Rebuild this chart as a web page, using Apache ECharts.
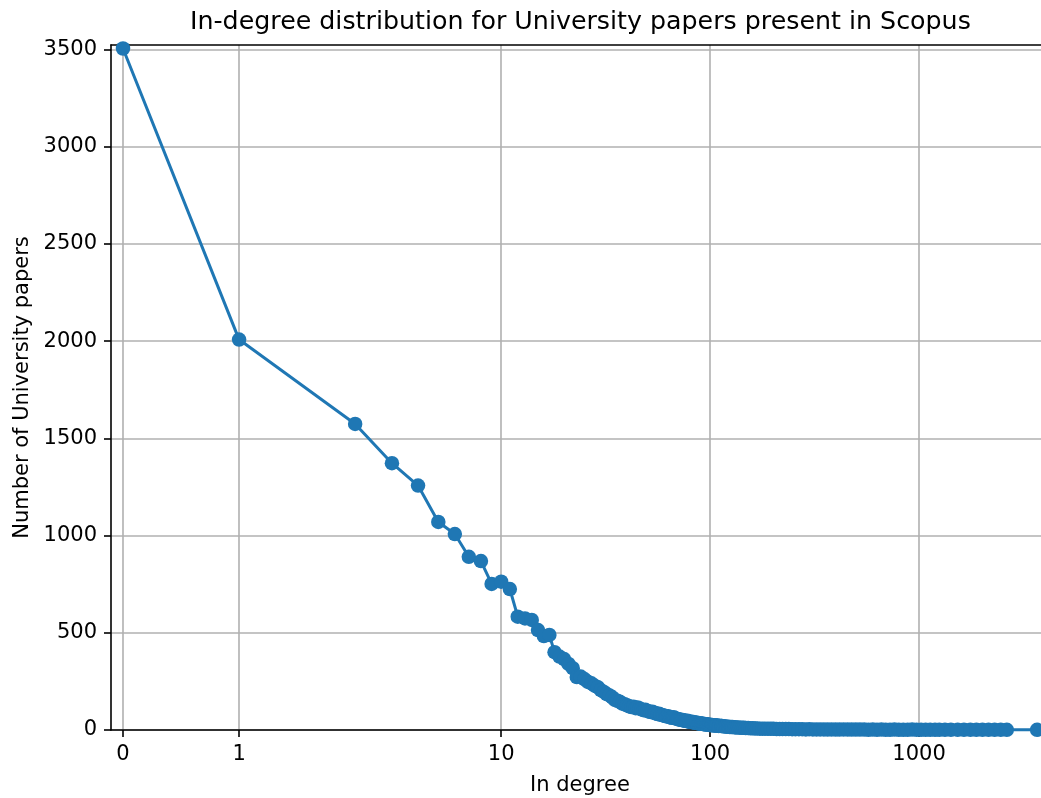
<!DOCTYPE html>
<html><head><meta charset="utf-8">
<script src="https://cdn.jsdelivr.net/npm/echarts@6/dist/echarts.min.js"></script>
<style>html,body{margin:0;padding:0;background:#fff}#c{width:1041px;height:798px}</style>
</head><body><div id="c"></div><script>
// ---- data ----
const inDegree = [
  0,1,2,3,4,5,6,7,8,9,10,11,12,13,14,15,16,17,18,19,20,
  21,22,23,24,25,26,27,28,29,30,31,32,33,34,35,36,37,38,39,40,
  41,42,43,44,45,46,47,48,49,50,51,52,53,54,55,56,57,58,59,60,
  61,62,63,64,65,66,67,68,69,70,71,72,73,74,75,76,77,78,79,80,
  81,82,83,84,85,86,87,88,89,90,91,92,93,94,95,96,97,98,99,100,
  101,102,103,104,105,106,107,108,110,111,113,114,116,118,120,122,124,126,128,131,
  133,136,139,142,145,148,152,156,160,164,168,173,178,183,189,195,201,208,215,222,
  230,238,247,256,266,276,287,298,310,323,336,350,365,381,398,416,435,455,476,498,
  521,546,572,600,629,660,692,726,762,800,840,882,926,973,1022,1075,1130,1192,1250,1330,
  1420,1530,1640,1760,1880,2010,2150,2300,2460,2630,3670
];
const paperCount = [
  3505,2008,1574,1372,1257,1070,1008,891,869,751,763,725,583,574,566,514,483,489,400,378,365,
  340,318,272,275,262,248,240,228,220,205,196,185,178,168,155,150,145,136,132,127,
  122,118,120,112,116,110,106,102,104,98,95,92,94,88,86,82,84,78,76,75,
  72,70,71,66,64,63,65,60,58,57,54,53,51,52,48,47,46,47,43,42,
  41,42,39,38,37,38,35,34,35,33,32,33,30,29,30,28,29,27,26,27,
  25,26,24,25,23,24,22,23,21,22,20,21,19,18,17,17,16,15,15,14,
  13,13,12,11,11,10,10,9,9,8,8,7,7,7,6,6,6,5,5,5,
  5,5,4,4,4,4,3,4,3,3,3,3,2,3,2,2,3,2,2,2,
  2,2,1,2,1,2,1,1,2,1,1,1,2,1,1,1,1,1,1,1,
  1,1,1,1,1,1,1,1,1,1,1
];
const xTickValues = [0, 1, 10, 100, 1000];
const yTickValues = [0, 500, 1000, 1500, 2000, 2500, 3000, 3500];
const xLimits = [-0.1034, 3833];
const yLimits = [0, 3523];

// ---- symmetric-log scale (linthresh = 2, base 10, linscale = 1) ----
const LINTHRESH = 2, LINSCALE_ADJ = 1 / (1 - 1 / 10);
function symlog(x) {
  const a = Math.abs(x);
  return a <= LINTHRESH ? x * LINSCALE_ADJ
    : Math.sign(x) * LINTHRESH * (LINSCALE_ADJ + Math.log10(a / LINTHRESH));
}
function invSymlog(y) {
  const a = Math.abs(y), t = LINTHRESH * LINSCALE_ADJ;
  return a <= t ? y / LINSCALE_ADJ
    : Math.sign(y) * LINTHRESH * Math.pow(10, a / LINTHRESH - LINSCALE_ADJ);
}

const points = inDegree.map((d, i) => [symlog(d), paperCount[i]]);
const xCustom = xTickValues.map(symlog);

const FONT = 'DejaVu Sans';
const chart = echarts.init(document.getElementById('c'), null, {renderer: 'canvas'});
chart.setOption({
  animation: false,
  backgroundColor: '#ffffff',
  title: {
    text: 'In-degree distribution for University papers present in Scopus',
    left: 190, top: 10, padding: 0,
    textStyle: {fontFamily: FONT, fontSize: 25.3, fontWeight: 'normal', color: '#000', lineHeight: 25}
  },
  grid: {left: 111, right: 0, top: 45, bottom: 68, show: false, containLabel: false, outerBoundsMode: 'none'},
  xAxis: [{
    type: 'value',
    min: symlog(xLimits[0]), max: symlog(xLimits[1]),
    name: 'In degree', nameLocation: 'middle', nameGap: 45,
    nameTextStyle: {fontFamily: FONT, fontSize: 21, color: '#000', padding: [0, 0, 0, 8]},
    axisLine: {show: true, onZero: false, lineStyle: {color: '#000', width: 1.6}},
    axisTick: {show: true, inside: false, length: 7, customValues: xCustom, lineStyle: {color: '#000', width: 1.6}},
    axisLabel: {
      customValues: xCustom, margin: 14, fontFamily: FONT, fontSize: 21, color: '#000',
      formatter: v => String(Math.round(invSymlog(v)))
    },
    splitLine: {show: true, customValues: xCustom, lineStyle: {color: '#b0b0b0', width: 1.6}}
  }, {
    type: 'value', position: 'top',
    min: symlog(xLimits[0]), max: symlog(xLimits[1]),
    axisLine: {show: true, onZero: false, lineStyle: {color: '#000', width: 1.6}},
    axisTick: {show: false}, axisLabel: {show: false}, splitLine: {show: false}
  }],
  yAxis: {
    type: 'value', min: yLimits[0], max: yLimits[1], interval: 500,
    name: 'Number of University papers', nameLocation: 'middle', nameGap: 75, nameRotate: 90,
    nameTextStyle: {fontFamily: FONT, fontSize: 21, color: '#000'},
    axisLine: {show: true, onZero: false, lineStyle: {color: '#000', width: 1.6}},
    axisTick: {show: true, inside: false, length: 7, customValues: yTickValues, lineStyle: {color: '#000', width: 1.6}},
    axisLabel: {customValues: yTickValues, margin: 14, fontFamily: FONT, fontSize: 21, color: '#000',
      formatter: v => String(v)},
    splitLine: {show: true, lineStyle: {color: '#b0b0b0', width: 1.6}}
  },
  series: [{
    type: 'line', xAxisIndex: 0,
    data: points,
    symbol: 'circle', symbolSize: 14.5, showSymbol: true,
    itemStyle: {color: '#1f77b4'},
    lineStyle: {color: '#1f77b4', width: 3},
    clip: false
  }]
});
</script></body></html>
